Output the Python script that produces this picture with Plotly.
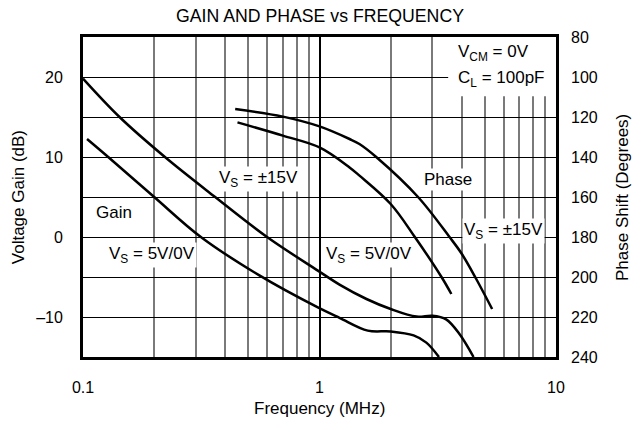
import math
import plotly.graph_objects as go

# ---- data ----
gain_15_f = [0.1, 0.1427, 0.222, 0.362, 0.6, 0.984, 1.215, 1.58, 2.0, 2.57, 3.0, 3.43, 3.9, 4.48]
gain_15_db = [19.8, 15.0, 10.0, 5.0, 0.0, -4.2, -5.95, -7.75, -9.0, -9.95, -9.85, -10.3, -12.1, -15.0]

gain_5_f = [0.104, 0.1278, 0.2, 0.315, 0.557, 0.984, 1.215, 1.6, 2.0, 2.5, 2.83, 3.2]
gain_5_db = [12.25, 10.0, 5.0, 0.0, -4.8, -8.8, -10.1, -11.7, -11.8, -12.3, -13.2, -15.0]

phase_15_f = [0.44, 0.7, 1.0, 1.34, 1.475, 1.737, 2.61, 3.546, 4.0, 4.6, 5.37]
phase_15_deg = [116, 119.8, 124.7, 131, 133.5, 140, 160, 180, 188.5, 201, 216]

phase_5_f = [0.45, 0.7, 1.0, 1.34, 1.476, 2.0, 2.53, 3.28, 3.61]
phase_5_deg = [122.7, 129.3, 135.2, 145.2, 149.3, 163.5, 180, 200, 208.5]

x_tickvals = [0.1, 1, 10]
x_ticktext = ["0.1", "1", "10"]
x_minor = [0.2, 0.3, 0.4, 0.5, 0.6, 0.7, 0.8, 0.9, 2, 3, 4, 5, 6, 7, 8, 9]
y_tickvals = [-15, -10, -5, 0, 5, 10, 15, 20, 25]
y_ticktext = ["", "\u201310", "", "0", "", "10", "", "20", ""]
y2_tickvals = [80, 100, 120, 140, 160, 180, 200, 220, 240]
y2_ticktext = ["80", "100", "120", "140", "160", "180", "200", "220", "240"]

FONT = "Liberation Sans, Arial, Helvetica, sans-serif"
TICK = 16
LAB = 17

line = dict(color="black", width=2.5, shape="spline", smoothing=1.0)

fig = go.Figure()
fig.add_trace(go.Scatter(x=gain_15_f, y=gain_15_db, mode="lines", line=line, yaxis="y", showlegend=False))
fig.add_trace(go.Scatter(x=gain_5_f, y=gain_5_db, mode="lines", line=line, yaxis="y", showlegend=False))
fig.add_trace(go.Scatter(x=phase_15_f, y=phase_15_deg, mode="lines", line=line, yaxis="y2", showlegend=False))
fig.add_trace(go.Scatter(x=phase_5_f, y=phase_5_deg, mode="lines", line=line, yaxis="y2", showlegend=False))

fig.update_layout(
    width=634, height=424,
    margin=dict(l=83, r=78, t=37, b=67),
    paper_bgcolor="white", plot_bgcolor="white",
    font=dict(family=FONT, size=TICK, color="black"),
    xaxis=dict(
        type="log", range=[-1, 1],
        tickvals=x_tickvals, ticktext=x_ticktext,
        showgrid=True, gridcolor="black", gridwidth=2,
        minor=dict(tickmode="array", tickvals=x_minor, showgrid=True,
                   gridcolor="#7a7a7a", gridwidth=1.5, ticks=""),
        showline=True, linecolor="black", linewidth=2.8, mirror=True,
        ticks="", ticklabelstandoff=14, zeroline=False,
        tickfont=dict(size=TICK),
    ),
    yaxis=dict(
        range=[-15, 25], tickvals=y_tickvals, ticktext=y_ticktext,
        showgrid=True, gridcolor="black", gridwidth=1,
        showline=True, linecolor="black", linewidth=2.8, mirror=True,
        ticks="", ticklabelstandoff=14, zeroline=False,
        tickfont=dict(size=TICK),
    ),
    yaxis2=dict(
        overlaying="y", side="right", range=[240, 80],
        tickvals=y2_tickvals, ticktext=y2_ticktext,
        showgrid=False, zeroline=False, ticks="", ticklabelstandoff=14,
        tickfont=dict(size=TICK),
    ),
)

# white mask behind the condition labels (covers gridlines, stays under curves)
fig.add_shape(type="rect", xref="x", yref="y", x0=3.5, x1=10, y0=17.6, y1=25,
              fillcolor="white", line=dict(width=0), layer="between")

def lab(text, fx, db, xanchor="center", bg="white"):
    fig.add_annotation(text=text, x=math.log10(fx), y=db, xref="x", yref="y",
                       showarrow=False, xanchor=xanchor, yanchor="middle",
                       font=dict(family=FONT, size=LAB, color="black"),
                       bgcolor=bg, borderpad=1)

lab("Gain", 0.1346, 3.04)
lab("V<sub>S</sub> = 5V/0V", 0.195, -2.3)
lab("V<sub>S</sub> = \u00b115V", 0.552, 7.3)
lab("V<sub>S</sub> = 5V/0V", 1.62, -2.2)
lab("Phase", 3.51, 7.2)
lab("V<sub>S</sub> = \u00b115V", 5.97, 0.7)
lab("V<sub>CM</sub> = 0V", 3.76, 23.0, xanchor="left")
lab("C<sub>L</sub> = 100pF", 3.76, 19.8, xanchor="left")

def ptxt(text, x, y, angle=0, size=LAB):
    fig.add_annotation(text=text, x=x, y=y, xref="paper", yref="paper",
                       showarrow=False, textangle=angle,
                       xanchor="center", yanchor="middle",
                       font=dict(family=FONT, size=size, color="black"))

ptxt("GAIN AND PHASE vs FREQUENCY", 0.5, 1.066, size=17.7)
ptxt("Frequency (MHz)", 0.5, -0.16)
ptxt("Voltage Gain (dB)", -0.137, 0.5, angle=-90)
ptxt("Phase Shift (Degrees)", 1.1395, 0.5, angle=-90)

fig.write_html("out.html", config={"displayModeBar": False},
               post_script="document.body.style.margin='0px';")
